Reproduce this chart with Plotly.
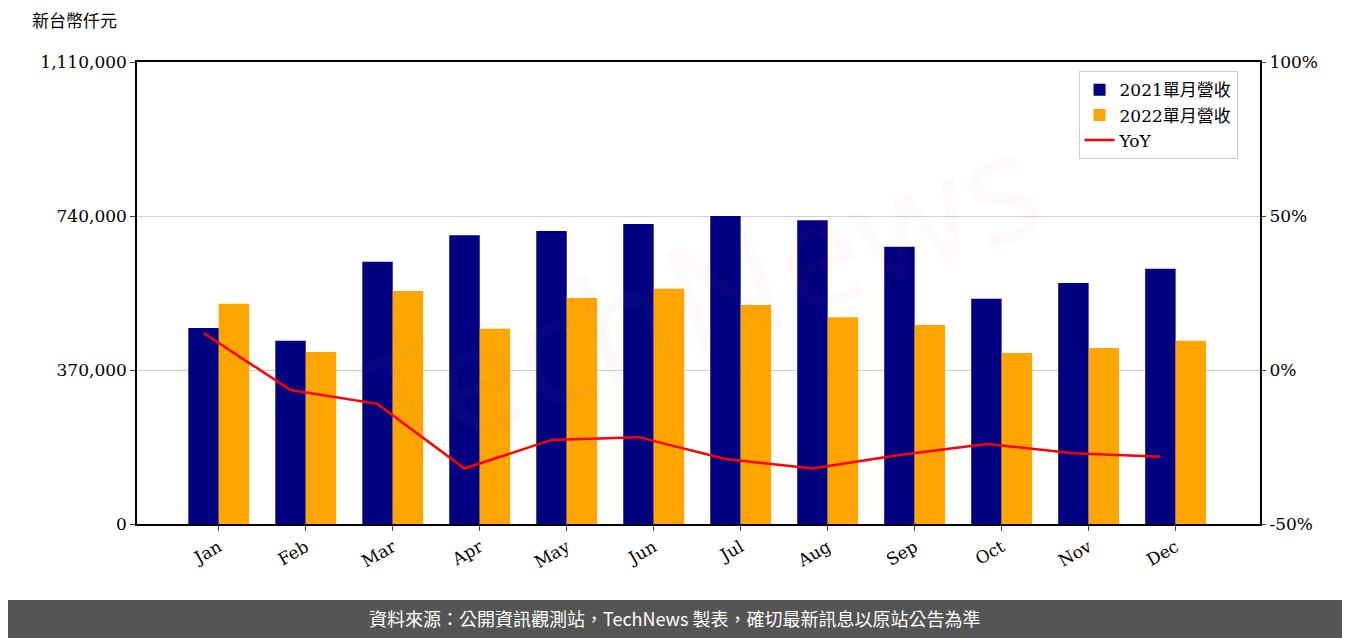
import plotly.graph_objects as go

months = ["Jan","Feb","Mar","Apr","May","Jun","Jul","Aug","Sep","Oct","Nov","Dec"]
rev2021 = [471000,440000,630000,694000,704000,721000,740000,730000,666000,541000,579000,613000]
rev2022 = [529000,413000,560000,469000,543000,565000,526000,497000,478000,411000,423000,440000]
yoy = [12.0,-6.5,-11.0,-32.0,-22.7,-21.8,-28.9,-32.0,-27.6,-24.0,-27.0,-28.2]

idx = list(range(len(months)))
w = 0.35
fig = go.Figure()
fig.add_bar(x=[i - w/2 for i in idx], y=rev2021, width=w, name="2021單月營收", marker_color="#000080", marker_line_width=0)
fig.add_bar(x=[i + w/2 for i in idx], y=rev2022, width=w, name="2022單月營收", marker_color="#FFA500", marker_line_width=0)
fig.add_scatter(x=[i - w/2 for i in idx], y=yoy, yaxis="y2", mode="lines", name="YoY",
                line=dict(color="red", width=2.5))

tf = dict(family="DejaVu Serif", size=17, color="black")
fig.update_layout(
    width=1350, height=638, plot_bgcolor="white", paper_bgcolor="white",
    margin=dict(l=129, r=98, t=54, b=122), barmode="overlay",
    font=dict(family="DejaVu Serif, Noto Sans CJK TC", size=17, color="black"),
    xaxis=dict(range=[-0.94, 11.97], tickvals=idx, ticktext=months, tickangle=-30,
               showline=True, mirror=True, linecolor="black", linewidth=1.5,
               ticks="outside", showgrid=False, tickfont=tf),
    yaxis=dict(range=[0, 1110000], tickvals=[0,370000,740000,1110000],
               ticktext=["0","370,000","740,000","1,110,000"], showline=True, mirror=True,
               linecolor="black", linewidth=1.5, ticks="outside", gridcolor="#d0d0d0",
               tickfont=tf, zeroline=False),
    yaxis2=dict(range=[-50, 100], tickvals=[-50,0,50,100], ticktext=["-50%","0%","50%","100%"],
                overlaying="y", side="right", showgrid=False, ticks="outside", tickfont=tf,
                zeroline=False),
    legend=dict(x=0.98, y=0.98, xanchor="right", yanchor="top", bordercolor="#cccccc",
                borderwidth=1, bgcolor="rgba(255,255,255,0.8)",
                font=dict(family="DejaVu Serif, Noto Sans CJK TC", size=17)),
    showlegend=True,
)
fig.add_annotation(text="<span style='color:rgba(150,150,150,0.22)'>Tech</span><span style='color:rgba(230,100,110,0.16)'>News</span>",
                   xref="paper", yref="paper", x=0.5, y=0.5, showarrow=False,
                   textangle=-20, font=dict(family="Noto Sans", size=150, color="rgba(180,180,180,0.2)"))
fig.add_annotation(text="新台幣仟元", xref="paper", yref="paper", x=-0.095, y=1.06, xanchor="left",
                   yanchor="bottom", showarrow=False,
                   font=dict(family="Noto Sans CJK TC", size=17, color="black"))
fig.add_shape(type="rect", xref="paper", yref="paper", x0=-0.3, x1=1.3, y0=-0.4, y1=-0.1645,
              fillcolor="#555555", line_width=0, layer="below")
fig.add_annotation(text="資料來源：公開資訊觀測站，TechNews 製表，確切最新訊息以原站公告為準",
                   xref="paper", yref="paper", x=(675-8-129)/1123, y=-0.237, showarrow=False,
                   font=dict(family="Noto Sans CJK TC", size=18, color="white"))
fig.write_html("out.html")
